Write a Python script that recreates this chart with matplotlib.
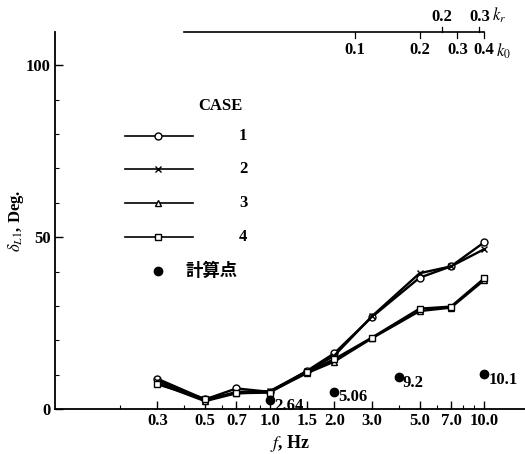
import numpy as np
import matplotlib
matplotlib.use("Agg")
import matplotlib.pyplot as plt
from matplotlib.lines import Line2D
import matplotlib.transforms as mtransforms

plt.rcParams['font.family'] = ['Liberation Serif', 'Noto Sans CJK JP', 'DejaVu Sans']
plt.rcParams['mathtext.fontset'] = 'stix'

# --- data ---
freq = [0.3, 0.5, 0.7, 1.0, 1.5, 2.0, 3.0, 5.0, 7.0, 10.0]
case1 = [8.8, 2.8, 6.0, 5.0, 11.2, 16.2, 26.8, 38.2, 41.5, 48.5]
case2 = [8.2, 2.5, 5.0, 5.2, 11.0, 15.5, 27.0, 39.5, 41.5, 46.5]
case3 = [7.5, 2.3, 4.6, 5.0, 10.5, 13.8, 20.6, 28.5, 29.5, 37.5]
case4 = [7.2, 3.0, 4.6, 4.8, 10.8, 14.5, 20.8, 29.2, 29.8, 38.0]
case_names = ['1', '2', '3', '4']
case_markers = ['o', 'x', '^', 's']

calc_f = [1.0, 2.0, 4.0, 10.0]
calc_val = [2.64, 5.06, 9.2, 10.1]

f_ticks = [0.3, 0.5, 0.7, 1.0, 1.5, 2.0, 3.0, 5.0, 7.0, 10.0]
f_ticklabels = ['0.3', '0.5', '0.7', '1.0', '1.5', '2.0', '3.0', '5.0', '7.0', '10.0']

# top scales (k0 and kr, proportional to f)
k0_ticks = [0.1, 0.2, 0.3, 0.4]
k0_per_f = 0.04
kr_ticks = [0.2, 0.3]
kr_per_f = 0.0316
top_line_f = [0.4, 10.0]

fs = 12
fig = plt.figure(figsize=(5.25, 4.54), dpi=100)
ax = fig.add_axes([0.105, 0.099, 0.895, 0.830])
ax.set_xscale('log')
ax.set_xlim(0.1, 15.5)
ax.set_ylim(0, 109.6)

for vals, m in zip([case1, case2, case3, case4], case_markers):
    ax.plot(freq, vals, color='black', lw=1.7, marker=m, markersize=5,
            markerfacecolor='white', markeredgecolor='black', markeredgewidth=1.0,
            zorder=3)

ax.plot(calc_f, calc_val, 'o', color='black', markersize=6, zorder=4)
for f, v in zip(calc_f, calc_val):
    ax.annotate(f'{v:g}', xy=(f, v), xytext=(3, -4), textcoords='offset points',
                fontsize=fs, fontweight='bold', va='center', ha='left')

# axes styling
for s in ['top', 'right']:
    ax.spines[s].set_visible(False)
ax.spines['left'].set_linewidth(1.3)
ax.spines['bottom'].set_linewidth(1.3)
ax.set_xticks(f_ticks)
ax.set_xticklabels(f_ticklabels, fontsize=fs, fontweight='bold')
ax.xaxis.set_minor_locator(matplotlib.ticker.LogLocator(base=10, subs=np.arange(2, 10)))
ax.xaxis.set_minor_formatter(matplotlib.ticker.NullFormatter())
ax.set_yticks([0, 50, 100])
ax.set_yticklabels(['0', '50', '100'], fontsize=fs, fontweight='bold')
ax.set_yticks(np.arange(0, 110, 10), minor=True)
ax.tick_params(axis='both', which='major', direction='in', length=6, width=1, pad=3)
ax.tick_params(axis='both', which='minor', direction='in', length=3, width=0.8)

ax.set_xlabel(r'$f$, Hz', fontsize=fs + 1, fontweight='bold', labelpad=3)
ax.set_ylabel(r'$\delta_{L1}$, Deg.', fontsize=fs, fontweight='bold', labelpad=0)

# top k scales
trans = mtransforms.blended_transform_factory(ax.transData, ax.transAxes)
ax.plot(top_line_f, [1.0, 1.0], color='black', lw=1.2, transform=trans, clip_on=False)
for k in k0_ticks:
    f = k / k0_per_f
    ax.plot([f, f], [1.0, 0.985], color='black', lw=0.9, transform=trans, clip_on=False)
    ax.text(f, 0.975, f'{k:g}', transform=trans, ha='center', va='top',
            fontsize=fs, fontweight='bold')
for k in kr_ticks:
    f = k / kr_per_f
    ax.plot([f, f], [1.0, 1.015], color='black', lw=0.9, transform=trans, clip_on=False)
    ax.text(f, 1.02, f'{k:g}', transform=trans, ha='center', va='bottom',
            fontsize=fs, fontweight='bold')
ax.text(0.4 / k0_per_f * 1.14, 0.975, r'$\boldsymbol{k_0}$', transform=trans,
        ha='left', va='top', fontsize=fs)
ax.text(0.3 / kr_per_f * 1.14, 1.02, r'$\boldsymbol{k_r}$', transform=trans,
        ha='left', va='bottom', fontsize=fs)

# legend drawn by hand
ax.text(0.351, 0.804, 'CASE', transform=ax.transAxes, ha='center', va='center',
        fontsize=fs, fontweight='bold')
leg_y = [0.724, 0.637, 0.546, 0.456]
for name, m, y in zip(case_names, case_markers, leg_y):
    ax.add_line(Line2D([0.149, 0.294], [y, y], color='black', lw=1.2,
                       transform=ax.transAxes))
    ax.add_line(Line2D([0.219], [y], marker=m, markersize=5, markerfacecolor='white',
                       markeredgecolor='black', markeredgewidth=1.0, linestyle='none',
                       transform=ax.transAxes))
    ax.text(0.40, y, name, transform=ax.transAxes, ha='center', va='center',
            fontsize=fs, fontweight='bold')
ax.add_line(Line2D([0.219], [0.366], marker='o', markersize=6, color='black',
                   linestyle='none', transform=ax.transAxes))
ax.text(0.277, 0.366, '計算点', transform=ax.transAxes, ha='left', va='center',
        fontsize=12.5, fontweight='bold', family=['Noto Sans CJK JP', 'DejaVu Sans'])

fig.savefig('out.png', dpi=100)
